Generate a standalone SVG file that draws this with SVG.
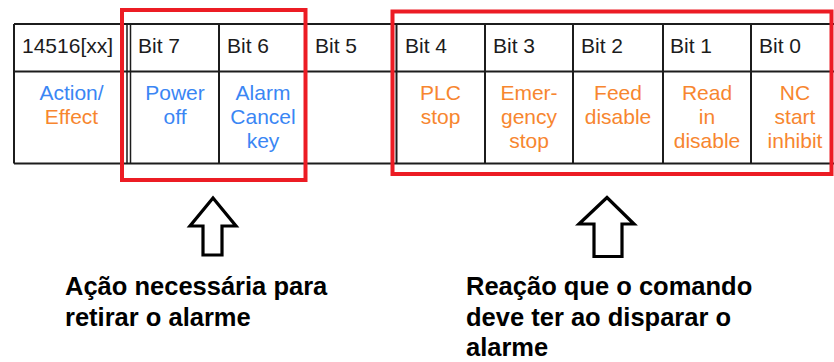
<svg xmlns="http://www.w3.org/2000/svg" width="834" height="362" viewBox="0 0 834 362">
<style>
.grid{stroke:#1c1c1c;stroke-width:2;fill:none}
.thin{stroke:#1c1c1c;stroke-width:1.5;fill:none}
.hdr{font-family:"Liberation Sans",Arial,sans-serif;font-size:21px;fill:#1c1c1c}
.blu{font-family:"Liberation Sans",Arial,sans-serif;font-size:21px;fill:#3a86f4;text-anchor:middle}
.org{font-family:"Liberation Sans",Arial,sans-serif;font-size:21px;fill:#f7862f;text-anchor:middle}
.red{stroke:#ec1c24;stroke-width:4;fill:none}
.arr{stroke:#000;stroke-width:3.2;fill:#fff;stroke-linejoin:miter}
.cap{font-family:"Liberation Sans",Arial,sans-serif;font-size:25.5px;font-weight:bold;fill:#000}
</style>
<rect width="834" height="362" fill="#fff"/>
<g id="table">
<path class="grid" d="M14 24H840M14 71.5H840M14 163.5H840M14 24V163.5M219 24V163.5M306 24V163.5M396.5 24V163.5M485 24V163.5M573 24V163.5M663 24V163.5M751 24V163.5"/>
<path class="thin" d="M127 24V163.5M130.5 24V163.5"/>
</g>
<g id="headers">
<text class="hdr" x="22" y="53">14516[xx]</text>
<text class="hdr" x="138" y="53">Bit 7</text>
<text class="hdr" x="227" y="53">Bit 6</text>
<text class="hdr" x="315" y="53">Bit 5</text>
<text class="hdr" x="405" y="53">Bit 4</text>
<text class="hdr" x="493" y="53">Bit 3</text>
<text class="hdr" x="581" y="53">Bit 2</text>
<text class="hdr" x="670" y="53">Bit 1</text>
<text class="hdr" x="759" y="53">Bit 0</text>
</g>
<g id="cells">
<text class="blu" x="71.5" y="100">Action/</text>
<text class="org" x="71.5" y="124">Effect</text>
<text class="blu" x="175" y="100">Power</text>
<text class="blu" x="175" y="124">off</text>
<text class="blu" x="263" y="100">Alarm</text>
<text class="blu" x="263" y="124">Cancel</text>
<text class="blu" x="263" y="148">key</text>
<text class="org" x="440.5" y="100">PLC</text>
<text class="org" x="440.5" y="124">stop</text>
<text class="org" x="529" y="100">Emer-</text>
<text class="org" x="529" y="124">gency</text>
<text class="org" x="529" y="148">stop</text>
<text class="org" x="618" y="100">Feed</text>
<text class="org" x="618" y="124">disable</text>
<text class="org" x="707" y="100">Read</text>
<text class="org" x="707" y="124">in</text>
<text class="org" x="707" y="148">disable</text>
<text class="org" x="795" y="100">NC</text>
<text class="org" x="795" y="124">start</text>
<text class="org" x="795" y="148">inhibit</text>
</g>
<g id="highlights">
<rect id="box-action" class="red" x="122" y="10" width="183.5" height="170"/>
<rect id="box-reaction" class="red" x="392.5" y="11.5" width="439" height="162.5"/>
</g>
<g id="connectors">
<polygon class="arr" points="213,198 190,226 203,226 203,255 222,255 222,226 236,226"/>
<polygon class="arr" points="607,197.5 579,224 594,224 594,256.5 622,256.5 622,224 634,224"/>
</g>
<g id="captions">
<text class="cap" x="65" y="295">Ação necessária para</text>
<text class="cap" x="65" y="326">retirar o alarme</text>
<text class="cap" x="466" y="295">Reação que o comando</text>
<text class="cap" x="466" y="326">deve ter ao disparar o</text>
<text class="cap" x="466" y="356">alarme</text>
</g>
</svg>
